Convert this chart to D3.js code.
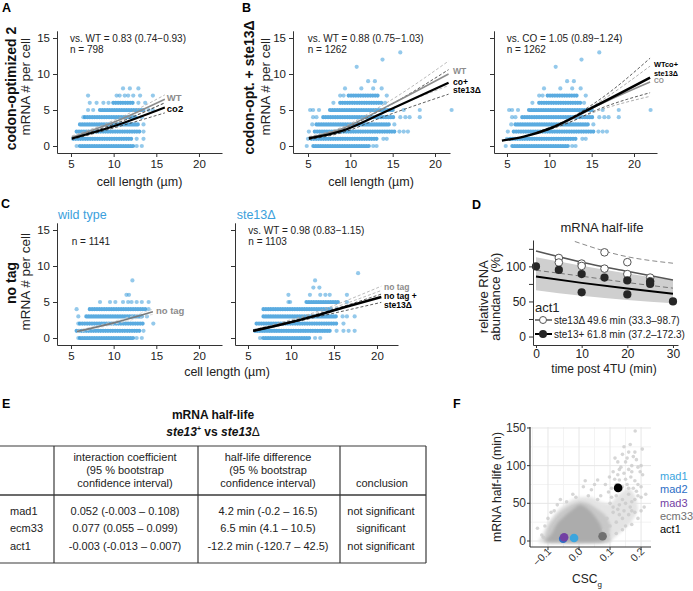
<!DOCTYPE html>
<html><head><meta charset="utf-8">
<script src="https://cdn.jsdelivr.net/npm/d3@7"></script>
<style>
body{margin:0;background:#fff;}
svg{display:block;font-family:"Liberation Sans",Arial,Helvetica,sans-serif;}
</style></head><body>
<svg id="fig" width="693" height="591"></svg>
<script>
// ================= DATA =================
const countTicks = [0, 5, 10, 15];
const lengthTicks = [5, 10, 15, 20];

// Panel A: codon-optimized 2. Dense rows [mRNA count, from µm, to µm]; single cells [µm, count]
const aRows = [[0,6.05,12.3],[1,5.27,12.3],[2,5.66,13.1],[3,6.05,13.1],[4,6.64,12.7],[5,8.4,13.5],[6,9.96,12.3]];
const aPoints = [[5.66,0],[12.7,0],[13.3,0],[12.7,1],[13.5,1],[13.5,2],[13.5,3],[6.45,4],[13.3,4],[7.0,5],[7.6,5],[14.1,5],[14.6,5],[7.2,6],[8.0,6],[8.8,6],[9.4,6],[12.9,6],[13.7,6],[7.0,7],[10.35,7],[10.7,7],[11.3,7],[11.7,7],[12.3,7],[13.1,7],[14.6,7],[11.1,8],[11.9,8],[12.9,8]];
const aWT = [[5.1,1.2],[10,3.3],[16,6.5]];
const aWTHi = [[5.1,1.4],[10,3.55],[16,7.1]];
const aWTLo = [[5.1,1.05],[10,3.1],[16,6.0]];
const aCo2 = [[5.1,1.05],[10,2.75],[16,5.35]];
const aCo2Hi = [[5.1,1.2],[10,3.0],[16,6.0]];
const aCo2Lo = [[5.1,0.9],[10,2.5],[16,4.6]];

// Panel B: codon-opt. + ste13Δ (same cells in both facets)
const bRows = [[0,5.63,12.3],[1,5.4,13.3],[2,5.8,15.2],[3,6.0,14.8],[4,6.8,15.3],[5,7.6,15.2],[6,8.8,13.7],[7,9.8,13.5]];
const bPoints = [[4.85,0],[12.7,0],[13.1,0],[5.0,1],[13.9,1],[14.3,1],[5.1,2],[15.8,2],[16.3,2],[16.8,2],[5.5,3],[15.2,3],[5.6,4],[6.0,4],[15.9,4],[16.5,4],[17.0,4],[18.2,4],[5.25,5],[5.6,5],[6.3,5],[16.3,5],[18.2,5],[21.96,5],[8.0,6],[14.1,6],[8.8,7],[9.2,7],[14.3,7],[9.37,8],[11.3,8],[12.7,8],[13.7,8],[12.1,9],[12.9,9],[10.75,11],[13.8,12],[15.9,13]];
const bWT = [[5.1,1.15],[9,2.4],[14,5.3],[21.6,10.0]];
const bWTHi = [[5.1,1.3],[9,2.6],[14,5.8],[21.6,11.8]];
const bWTLo = [[5.1,1.0],[9,2.2],[14,4.8],[21.6,8.4]];
const bCo = [[5.1,1.05],[9,2.1],[14,4.7],[21.6,8.8]];
const bCoHi = [[5.1,1.2],[9,2.35],[14,5.25],[21.6,10.6]];
const bCoLo = [[5.1,0.9],[9,1.85],[14,4.1],[21.6,7.2]];
const brWTco = [[4.4,0.75],[7,1.3],[10,2.4],[15,5.3],[21.9,9.5]];
const brWTcoHi = [[8.5,1.9],[12,3.6],[16,6.5],[21.9,12.2]];
const brWTcoLo = [[8.5,1.75],[12,3.1],[16,5.2],[21.9,7.4]];
const brCO = [[8.5,1.8],[12,3.4],[16,5.8],[21.9,8.9]];
const brCOHi = [[8.5,1.85],[12,3.5],[16,6.2],[21.9,11.1]];
const brCOLo = [[8.5,1.7],[12,3.15],[16,5.0],[21.9,6.9]];

// Panel C: no tag, wild type / ste13Δ
const cwRows = [[0,6.05,12.3],[1,5.66,13.1],[2,6.05,13.5],[3,6.8,13.5],[4,7.2,13.7]];
const cwPoints = [[5.86,0],[12.7,0],[13.3,0],[13.5,1],[5.86,2],[14.65,2],[5.86,3],[13.9,3],[5.66,4],[14.1,4],[8.4,5],[9.57,5],[10.2,5],[11.1,5],[11.7,5],[12.1,5],[12.7,5],[13.3,5],[14.1,5],[11.5,6],[11.8,6],[12.2,8]];
const cwFit = [[5.7,0.9],[10,2.1],[14.6,3.65]];
const cwFitHi = [[5.7,1.05],[10,2.3],[14.6,4.0]];
const cwFitLo = [[5.7,0.75],[10,1.9],[14.6,3.3]];
const csRows = [[0,6.78,12.2],[1,5.81,14.5],[2,6.0,15.3],[3,6.8,15.3],[4,6.8,14.9],[5,11.8,15.7]];
const csPoints = [[6.4,0],[12.8,0],[13.4,0],[15.3,1],[16.1,1],[16.7,1],[17.4,1],[16.1,2],[16.0,3],[16.5,3],[17.4,3],[15.3,4],[9.7,5],[9.9,5],[16.5,5],[9.7,6],[12.2,6],[13.4,6],[14.0,6],[14.5,6],[16.5,6],[12.6,7],[13.3,7],[12.8,8],[17.8,9]];
const csFit = [[5.6,1.0],[9,1.9],[12.6,3.0],[16,4.2],[20.5,5.7]];
const csFitHi = [[5.6,1.05],[12.6,3.15],[20.5,6.1]];
const csFitLo = [[5.6,0.9],[12.6,2.8],[20.5,4.95]];
const csNoTagHi = [[5.6,1.15],[12.6,3.5],[20.5,7.2]];
const csNoTagLo = [[5.6,1.1],[12.6,3.3],[20.5,6.6]];

// Panel D: act1 half-life (time min, relative abundance %)
const timeTicks = [0, 10, 20, 30];
const abundTicks = [0, 25, 50, 75, 100, 125];
const dOpen = [[5,112],[5,105.5],[10,104],[10,100.6],[15,120],[15,96.8],[20,106],[20,89],[25,84],[25,79]];
const dFilled = [[0,100],[5,95],[10,89],[10,63],[15,84],[20,80],[20,60],[25,78],[25,75],[30,50]];
const dFitDel = [[0,122],[10,106],[20,93],[30,80.5]];
const dFitDelHi = [[8.5,135.5],[18.4,116],[30,104.5]];
const dFitDelLo = [[0,94.5],[10,86],[20,77],[30,69]];
const dFitPlus = [[0,85.5],[10,76.5],[20,68.5],[30,61]];
const dBandHi = [[0,113],[10,101],[20,90],[30,80.5]];
const dBandLo = [[0,66],[10,58],[20,52],[30,47.5]];
const dLegend = ["ste13Δ 49.6 min (33.3–98.7)", "ste13+ 61.8 min (37.2–172.3)"];

// Panel E: table
const eGenes = ["mad1", "ecm33", "act1"];
const eInteraction = ["0.052 (-0.003 – 0.108)", "0.077 (0.055 – 0.099)", "-0.003 (-0.013 – 0.007)"];
const eHalfDiff = ["4.2 min (-0.2 – 16.5)", "6.5 min (4.1 – 10.5)", "-12.2 min (-120.7 – 42.5)"];
const eConclusion = ["not significant", "significant", "not significant"];
const eHeadInteraction = ["interaction coefficient", "(95 % bootstrap", "confidence interval)"];
const eHeadHalf = ["half-life difference", "(95 % bootstrap", "confidence interval)"];

// Panel F: CSCg vs mRNA half-life
const cscTicks = [-0.1, 0.0, 0.1, 0.2];
const cscMinor = [-0.15, -0.05, 0.05, 0.15];
const hlTicks = [0, 50, 100, 150];
const hlMinor = [25, 75, 125];
const fHalo = [[-0.12,-3],[-0.118,8],[-0.1,24],[-0.07,40],[-0.035,52],[0.0,58],[0.04,58],[0.07,52],[0.1,50],[0.13,62],[0.16,70],[0.18,60],[0.19,42],[0.17,26],[0.14,14],[0.11,3],[0.08,-3]];
const fMid = [[-0.105,-2],[-0.108,8],[-0.095,22],[-0.068,36],[-0.035,46],[0.0,52],[0.03,50],[0.06,42],[0.085,34],[0.1,22],[0.098,8],[0.09,-2]];
const fCore = [[-0.097,-1],[-0.1,4],[-0.087,10],[-0.071,23],[-0.044,34],[-0.013,44],[0.003,48],[0.024,44],[0.045,36],[0.067,23],[0.077,10],[0.072,-1]];
const fPoints = [[0.181,146],[0.204,122],[0.16,118],[0.116,110],[0.135,98],[0.197,92],[0.167,85],[0.13,81],[0.098,85],[0.15,105],[0.17,100],[0.185,108],[0.145,90],[0.19,75],[0.175,70],[0.16,62],[0.2,58],[0.21,45],[0.14,55],[0.12,60],[0.105,70],[0.085,75],[0.06,81],[0.014,72],[0.04,68],[-0.02,62],[-0.06,55],[-0.134,17],[-0.12,8],[0.17,40],[0.19,30],[0.15,20],[0.13,35],[0.11,45],[0.07,60],[0.155,75],[0.125,88],[0.18,55],[0.2,100],[0.165,128],[0.14,115],[0.11,92],[0.095,65],[-0.08,40],[-0.1,30],[0.02,80],[0.05,75],
  [0.1,20],[0.12,25],[0.14,30],[0.16,35],[0.18,38],[0.2,40],[0.11,38],[0.13,48],[0.15,50],[0.17,52],[0.19,60],[0.16,70],[0.14,72],[0.18,80],[0.2,72],[0.12,75],[0.15,82],[0.17,92],[0.13,95],[0.19,98],[0.16,95],[0.18,118],[0.145,125],[0.1,50],[0.09,30],[0.08,15],[0.095,8],[0.12,10],[0.14,15],[0.17,22],[0.06,55],[0.03,60],[-0.01,58],[-0.04,52],[-0.07,48],[-0.09,38],[-0.11,20],[-0.115,5],[0.205,88],[0.215,62],[0.155,110],[0.175,112],[0.125,105],[0.135,68],[0.185,66],[0.105,58],[0.115,82],[0.165,45],[0.145,40],[0.125,42]];
const fGenes = ["mad1", "mad2", "mad3", "ecm33", "act1"];
const fGeneCSC = [-0.016, -0.051, -0.048, 0.076, 0.126];
const fGeneHL = [4, 3, 5, 6.3, 70.5];

// ================= DRAWING =================
const FONT = '"Liberation Sans", Arial, Helvetica, sans-serif';
const BLUE = '#3d9cdb';
const geneColor = {mad1:'#3ba5de', mad2:'#2c6ec6', mad3:'#7340a3', ecm33:'#707070', act1:'#000000'};
const svg = d3.select('#fig');
svg.append('rect').attr('width', 693).attr('height', 591).attr('fill', '#fff');

function txt(g, x, y, s, o = {}) {
  const t = g.append('text').attr('x', x).attr('y', y).text(s)
    .attr('font-size', o.size || 11).attr('fill', o.color || '#222')
    .attr('text-anchor', o.anchor || 'start');
  if (o.weight) t.attr('font-weight', o.weight);
  if (o.style) t.attr('font-style', o.style);
  if (o.rotate) t.attr('transform', `rotate(${o.rotate},${x},${y})`);
  if (o.len) t.attr('textLength', o.len).attr('lengthAdjust', 'spacingAndGlyphs');
  return t;
}
function styleAxis(sel, fs) {
  sel.attr('font-family', FONT).attr('font-size', fs);
  sel.select('.domain').attr('stroke', '#333').attr('stroke-width', 1);
  sel.selectAll('.tick line').attr('stroke', '#333');
  sel.selectAll('.tick text').attr('fill', '#222');
}

function scatterPanel(cfg) {
  const g = svg.append('g');
  const x = d3.scaleLinear().domain(cfg.xDom).range(cfg.xRange);
  const y = d3.scaleLinear().domain([-0.97, 16]).range(cfg.yRange);
  g.append('g').selectAll('line').data(cfg.rows).join('line')
    .attr('x1', d => x(d[1])).attr('x2', d => x(d[2]))
    .attr('y1', d => y(d[0])).attr('y2', d => y(d[0]))
    .attr('stroke', BLUE).attr('stroke-width', 4.2).attr('stroke-linecap', 'round')
    .attr('stroke-dasharray', '0.01 2.4').attr('stroke-opacity', 0.85);
  g.append('g').selectAll('circle').data(cfg.points).join('circle')
    .attr('cx', d => x(d[0])).attr('cy', d => y(d[1])).attr('r', 2.1)
    .attr('fill', BLUE).attr('fill-opacity', 0.55);
  const line = d3.line().x(d => x(d[0])).y(d => y(d[1])).curve(d3.curveMonotoneX);
  cfg.fits.forEach(f => g.append('path').attr('d', line(f.pts)).attr('fill', 'none')
    .attr('stroke', f.color).attr('stroke-width', f.w)
    .attr('stroke-dasharray', f.dash ? '3,2' : null));
  const ya = g.append('g').attr('transform', `translate(${cfg.xRange[0]},0)`)
    .call(d3.axisLeft(y).tickValues(countTicks).tickSize(4).tickSizeOuter(0).tickPadding(3)
      .tickFormat(cfg.yLabels ? d3.format('d') : () => ''));
  styleAxis(ya, 11.5);
  const xa = g.append('g').attr('transform', `translate(0,${cfg.yRange[0]})`)
    .call(d3.axisBottom(x).tickValues(lengthTicks).tickSize(4).tickSizeOuter(0).tickPadding(3));
  styleAxis(xa, 11.5);
  (cfg.notes || []).forEach(n => txt(g, cfg.noteX, n[1], n[0], {size: 10}));
  return {g, x, y};
}

// ---- Panel A ----
const pA = scatterPanel({
  xRange: [57, 222], xDom: [3.36, 22.7], yRange: [153, 30.8], yLabels: true,
  rows: aRows, points: aPoints,
  fits: [
    {pts: aWTHi, color: '#aaa', w: 0.8, dash: true}, {pts: aWTLo, color: '#aaa', w: 0.8, dash: true},
    {pts: aCo2Hi, color: '#333', w: 0.8, dash: true}, {pts: aCo2Lo, color: '#333', w: 0.8, dash: true},
    {pts: aWT, color: '#8c8c8c', w: 1.6}, {pts: aCo2, color: '#000', w: 2}],
  noteX: 70, notes: [['vs. WT = 0.83 (0.74\u22120.93)', 41.5], ['n = 798', 53]]
});
txt(pA.g, pA.x(aWT[2][0]) + 2, pA.y(aWT[2][1]) + 1.5, 'WT', {size: 9.5, weight: 'bold', color: '#8c8c8c'});
txt(pA.g, pA.x(aCo2[2][0]) + 2, pA.y(aCo2[2][1]) + 4.5, 'co2', {size: 9.5, weight: 'bold', color: '#000'});

// ---- Panel B (left) ----
const pB = scatterPanel({
  xRange: [293, 450], xDom: [3.228, 21.77], yRange: [153, 30.8], yLabels: true,
  rows: bRows, points: bPoints,
  fits: [
    {pts: bWTHi, color: '#aaa', w: 0.8, dash: true}, {pts: bWTLo, color: '#aaa', w: 0.8, dash: true},
    {pts: bCoHi, color: '#333', w: 0.8, dash: true}, {pts: bCoLo, color: '#333', w: 0.8, dash: true},
    {pts: bWT, color: '#8c8c8c', w: 1.6}, {pts: bCo, color: '#000', w: 2.2}],
  noteX: 307.7, notes: [['vs. WT = 0.88 (0.75\u22121.03)', 41.5], ['n = 1262', 53]]
});
txt(pB.g, 453, pB.y(bWT[3][1]) - 0.5, 'WT', {size: 8.5, weight: 'bold', color: '#8c8c8c'});
txt(pB.g, 453, pB.y(bCo[3][1]) + 2, 'co+', {size: 8.5, weight: 'bold', color: '#000'});
txt(pB.g, 453, pB.y(bCo[3][1]) + 10.5, 'ste13\u0394', {size: 8.5, weight: 'bold', color: '#000'});

// ---- Panel B (right) ----
const pBr = scatterPanel({
  xRange: [494, 657], xDom: [3.465, 22.716], yRange: [153, 30.8], yLabels: false,
  rows: bRows, points: bPoints,
  fits: [
    {pts: brCOHi, color: '#999', w: 0.8, dash: true}, {pts: brCOLo, color: '#999', w: 0.8, dash: true},
    {pts: brWTcoHi, color: '#333', w: 0.8, dash: true}, {pts: brWTcoLo, color: '#333', w: 0.8, dash: true},
    {pts: brCO, color: '#8c8c8c', w: 1.6}, {pts: brWTco, color: '#000', w: 2.5}],
  noteX: 506.7, notes: [['vs. CO = 1.05 (0.89\u22121.24)', 41.5], ['n = 1262', 53]]
});
txt(pBr.g, 654, pBr.y(brWTco[4][1]) - 10.5, 'WTco+', {size: 8, weight: 'bold', color: '#000', len: 24});
txt(pBr.g, 654, pBr.y(brWTco[4][1]) - 1.8, 'ste13\u0394', {size: 8, weight: 'bold', color: '#000', len: 24});
txt(pBr.g, 654, pBr.y(brCO[3][1]) + 1.5, 'CO', {size: 6.5, weight: 'bold', color: '#8c8c8c'});

// ---- Panel C (left) ----
const pCw = scatterPanel({
  xRange: [57, 222], xDom: [3.36, 22.7], yRange: [345, 222.8], yLabels: true,
  rows: cwRows, points: cwPoints,
  fits: [
    {pts: cwFitHi, color: '#d0d0d0', w: 0.8, dash: true}, {pts: cwFitLo, color: '#d0d0d0', w: 0.8, dash: true},
    {pts: cwFit, color: '#7a7a7a', w: 1.6}],
  noteX: 71.7, notes: [['n = 1141', 245]]
});
txt(pCw.g, pCw.x(cwFit[2][0]) + 3, pCw.y(cwFit[2][1]) + 2, 'no tag', {size: 9.5, weight: 'bold', color: '#8c8c8c'});
txt(pCw.g, 58, 219, 'wild type', {size: 12.5, color: '#3ba0dc'});

// ---- Panel C (right) ----
const pCs = scatterPanel({
  xRange: [235, 398], xDom: [3.488, 22.44], yRange: [345, 222.8], yLabels: false,
  rows: csRows, points: csPoints,
  fits: [
    {pts: csNoTagHi, color: '#aaa', w: 0.8, dash: true}, {pts: csNoTagLo, color: '#aaa', w: 0.8, dash: true},
    {pts: csFitHi, color: '#333', w: 0.8, dash: true}, {pts: csFitLo, color: '#333', w: 0.8, dash: true},
    {pts: csFit, color: '#000', w: 2.5}],
  noteX: 248.3, notes: [['vs. WT = 0.98 (0.83\u22121.15)', 233.5], ['n = 1103', 245]]
});
txt(pCs.g, 384, pCs.y(csFit[4][1]) - 7, 'no tag', {size: 8.5, weight: 'bold', color: '#8c8c8c'});
txt(pCs.g, 384, pCs.y(csFit[4][1]) + 2, 'no tag +', {size: 8.5, weight: 'bold', color: '#000'});
txt(pCs.g, 384, pCs.y(csFit[4][1]) + 11, 'ste13\u0394', {size: 8.5, weight: 'bold', color: '#000'});
txt(pCs.g, 236.7, 219, 'ste13\u0394', {size: 12.5, color: '#3ba0dc'});

// ---- axis titles and panel letters for A-C ----
const T = svg.append('g');
txt(T, 15.5, 88.5, 'codon-optimized 2', {size: 14, weight: 'bold', anchor: 'middle', rotate: -90, color: '#111'});
txt(T, 30, 86.7, 'mRNA # per cell', {size: 13.5, anchor: 'middle', rotate: -90});
txt(T, 254, 87.5, 'codon-opt. + ste13\u0394', {size: 14, weight: 'bold', anchor: 'middle', rotate: -90, color: '#111'});
txt(T, 270.5, 86.7, 'mRNA # per cell', {size: 13.5, anchor: 'middle', rotate: -90});
txt(T, 15.5, 283, 'no tag', {size: 14, weight: 'bold', anchor: 'middle', rotate: -90, color: '#111'});
txt(T, 30, 281.7, 'mRNA # per cell', {size: 13.5, anchor: 'middle', rotate: -90});
txt(T, 139.5, 186, 'cell length (\u00b5m)', {size: 12.5, anchor: 'middle'});
txt(T, 371, 186, 'cell length (\u00b5m)', {size: 12.5, anchor: 'middle'});
txt(T, 227, 376, 'cell length (\u00b5m)', {size: 12.5, anchor: 'middle'});
[['A', 2, 12], ['B', 242, 12], ['C', 1, 208], ['D', 472, 209], ['E', 2, 408], ['F', 453, 408]]
  .forEach(l => txt(T, l[1], l[2], l[0], {size: 12.5, weight: 'bold', color: '#000'}));

// ---- Panel D ----
(function () {
  const g = svg.append('g');
  const x = d3.scaleLinear().domain([-0.657, 31.1]).range([533, 678]);
  const y = d3.scaleLinear().domain([-12.06, 137.6]).range([345, 240]);
  const band = dBandHi.map((d, i) => [d[0], dBandLo[i][1], d[1]]);
  g.append('path').attr('d', d3.area().x(d => x(d[0])).y0(d => y(d[1])).y1(d => y(d[2])).curve(d3.curveMonotoneX)(band))
    .attr('fill', '#cfcfcf');
  const line = d3.line().x(d => x(d[0])).y(d => y(d[1])).curve(d3.curveMonotoneX);
  [[dFitDelHi, '#8a8a8a', 1, true], [dFitDelLo, '#777', 1, true], [dFitDel, '#555', 1.6, false], [dFitPlus, '#000', 2, false]]
    .forEach(c => g.append('path').attr('d', line(c[0])).attr('fill', 'none').attr('stroke', c[1])
      .attr('stroke-width', c[2]).attr('stroke-dasharray', c[3] ? '5,3' : null));
  g.append('g').selectAll('circle').data(dOpen).join('circle')
    .attr('cx', d => x(d[0])).attr('cy', d => y(d[1])).attr('r', 3.8)
    .attr('fill', '#fff').attr('stroke', '#555').attr('stroke-width', 1);
  g.append('g').selectAll('circle').data(dFilled).join('circle')
    .attr('cx', d => x(d[0])).attr('cy', d => y(d[1])).attr('r', 4.1).attr('fill', '#262626');
  const ya = g.append('g').attr('transform', 'translate(533,0)')
    .call(d3.axisLeft(y).tickValues(abundTicks).tickSize(4).tickSizeOuter(0).tickPadding(3)
      .tickFormat(d => d % 50 === 0 ? d : ''));
  styleAxis(ya, 12);
  const xa = g.append('g').attr('transform', 'translate(0,345)')
    .call(d3.axisBottom(x).tickValues(timeTicks).tickSize(3).tickSizeOuter(0).tickPadding(1.5));
  styleAxis(xa, 12);
  txt(g, 602, 232, 'mRNA half-life', {size: 13, anchor: 'middle'});
  txt(g, 488, 296.7, 'relative RNA', {size: 13, anchor: 'middle', rotate: -90});
  txt(g, 500, 296.7, 'abundance (%)', {size: 13, anchor: 'middle', rotate: -90});
  txt(g, 604, 373, 'time post 4TU (min)', {size: 12, anchor: 'middle'});
  txt(g, 535, 312, 'act1', {size: 13});
  // legend
  g.append('line').attr('x1', 535).attr('x2', 552).attr('y1', 320).attr('y2', 320).attr('stroke', '#555').attr('stroke-width', 1.5);
  g.append('circle').attr('cx', 543).attr('cy', 320).attr('r', 3.5).attr('fill', '#fff').attr('stroke', '#555');
  g.append('line').attr('x1', 535).attr('x2', 552).attr('y1', 334).attr('y2', 334).attr('stroke', '#000').attr('stroke-width', 2);
  g.append('circle').attr('cx', 543).attr('cy', 334).attr('r', 4).attr('fill', '#262626');
  txt(g, 554, 323.5, dLegend[0], {size: 10});
  txt(g, 554, 337.5, dLegend[1], {size: 10});
})();

// ---- Panel E ----
(function () {
  const g = svg.append('g');
  txt(g, 213, 419, 'mRNA half-life', {size: 12, weight: 'bold', anchor: 'middle', color: '#111'});
  const t2 = g.append('text').attr('x', 213).attr('y', 436).attr('text-anchor', 'middle')
    .attr('font-size', 12).attr('font-weight', 'bold').attr('fill', '#111');
  t2.append('tspan').attr('font-style', 'italic').text('ste13');
  t2.append('tspan').attr('font-size', 7).attr('dy', -5).text('+');
  t2.append('tspan').attr('dy', 5).text(' vs ');
  t2.append('tspan').attr('font-style', 'italic').text('ste13');
  t2.append('tspan').attr('font-weight', 'normal').text('\u0394');
  const hl = [446, 495, 563], vl = [54, 198, 340, 426];
  hl.forEach(yy => g.append('line').attr('x1', 0).attr('x2', 426).attr('y1', yy).attr('y2', yy)
    .attr('stroke', '#3a3a3a').attr('stroke-width', yy === 495 ? 1.5 : 1.2));
  vl.forEach(xx => g.append('line').attr('x1', xx).attr('x2', xx).attr('y1', 446).attr('y2', 563)
    .attr('stroke', '#3a3a3a').attr('stroke-width', 1.2));
  const hy = [460.5, 474, 487];
  eHeadInteraction.forEach((s, i) => txt(g, 125, hy[i], s, {size: 11, anchor: 'middle'}));
  eHeadHalf.forEach((s, i) => txt(g, 268, hy[i], s, {size: 11, anchor: 'middle'}));
  txt(g, 382, 487, 'conclusion', {size: 11, anchor: 'middle'});
  const ry = [514.5, 532, 550];
  eGenes.forEach((s, i) => {
    txt(g, 10, ry[i], s, {size: 11});
    txt(g, 125, ry[i], eInteraction[i], {size: 11, anchor: 'middle'});
    txt(g, 268, ry[i], eHalfDiff[i], {size: 11, anchor: 'middle'});
    txt(g, 381, ry[i], eConclusion[i], {size: 11, anchor: 'middle'});
  });
})();

// ---- Panel F ----
(function () {
  const g = svg.append('g');
  const x = d3.scaleLinear().domain([-0.158, 0.232]).range([530, 651]);
  const y = d3.scaleLinear().domain([-7.96, 151.3]).range([547, 427]);
  cscMinor.forEach(v => g.append('line').attr('x1', x(v)).attr('x2', x(v)).attr('y1', 427).attr('y2', 547).attr('stroke', '#f3f3f3'));
  hlMinor.forEach(v => g.append('line').attr('x1', 530).attr('x2', 651).attr('y1', y(v)).attr('y2', y(v)).attr('stroke', '#f3f3f3'));
  cscTicks.forEach(v => g.append('line').attr('x1', x(v)).attr('x2', x(v)).attr('y1', 427).attr('y2', 547).attr('stroke', '#e6e6e6'));
  hlTicks.forEach(v => g.append('line').attr('x1', 530).attr('x2', 651).attr('y1', y(v)).attr('y2', y(v)).attr('stroke', '#e6e6e6'));
  const defs = svg.append('defs');
  defs.append('filter').attr('id', 'soft').attr('x', '-20%').attr('y', '-20%').attr('width', '140%').attr('height', '140%')
    .append('feGaussianBlur').attr('stdDeviation', 1.8);
  const clip = defs.append('clipPath').attr('id', 'fclip');
  clip.append('rect').attr('x', 530).attr('y', 420).attr('width', 125).attr('height', 127);
  const poly = d3.line().x(d => x(d[0])).y(d => y(d[1])).curve(d3.curveCardinalClosed.tension(0.3));
  const cloud = g.append('g').attr('clip-path', 'url(#fclip)');
  cloud.append('path').attr('d', poly(fHalo)).attr('fill', '#e4e4e4').attr('filter', 'url(#soft)');
  cloud.append('path').attr('d', poly(fMid)).attr('fill', '#c8c8c8').attr('filter', 'url(#soft)');
  cloud.append('path').attr('d', poly(fCore)).attr('fill', '#acacac').attr('filter', 'url(#soft)');
  cloud.append('g').selectAll('circle').data(fPoints).join('circle')
    .attr('cx', d => x(d[0])).attr('cy', d => y(d[1])).attr('r', 1.8).attr('fill', '#c8c8c8').attr('fill-opacity', 0.75);
  const order = [3, 1, 2, 0, 4];
  g.append('g').selectAll('circle').data(order).join('circle')
    .attr('cx', i => x(fGeneCSC[i])).attr('cy', i => y(fGeneHL[i])).attr('r', 4.3)
    .attr('fill', i => geneColor[fGenes[i]]);
  g.append('line').attr('x1', 530).attr('x2', 530).attr('y1', 427).attr('y2', 547).attr('stroke', '#333').attr('stroke-width', 1.2);
  g.append('line').attr('x1', 530).attr('x2', 651).attr('y1', 547).attr('y2', 547).attr('stroke', '#333').attr('stroke-width', 1.2);
  hlTicks.forEach(v => {
    g.append('line').attr('x1', 527).attr('x2', 530).attr('y1', y(v)).attr('y2', y(v)).attr('stroke', '#333');
    txt(g, 526, y(v) + 4, String(v), {size: 12, anchor: 'end', color: '#333'});
  });
  cscTicks.forEach(v => {
    g.append('line').attr('x1', x(v)).attr('x2', x(v)).attr('y1', 547).attr('y2', 550).attr('stroke', '#333');
    txt(g, x(v) + 4, 552, d3.format('.1f')(v), {size: 10.5, anchor: 'end', rotate: -45, color: '#333'});
  });
  txt(g, 501, 487, 'mRNA half-life (min)', {size: 12.3, anchor: 'middle', rotate: -90});
  const cl = g.append('text').attr('x', 587).attr('y', 583).attr('text-anchor', 'middle').attr('font-size', 12).attr('fill', '#222');
  cl.append('tspan').text('CSC');
  cl.append('tspan').attr('font-size', 8).attr('dy', 4).text('g');
  fGenes.forEach((s, i) => txt(g, 660, 480 + i * 13.3, s, {size: 11, color: geneColor[s]}));
})();
</script>
</body></html>
